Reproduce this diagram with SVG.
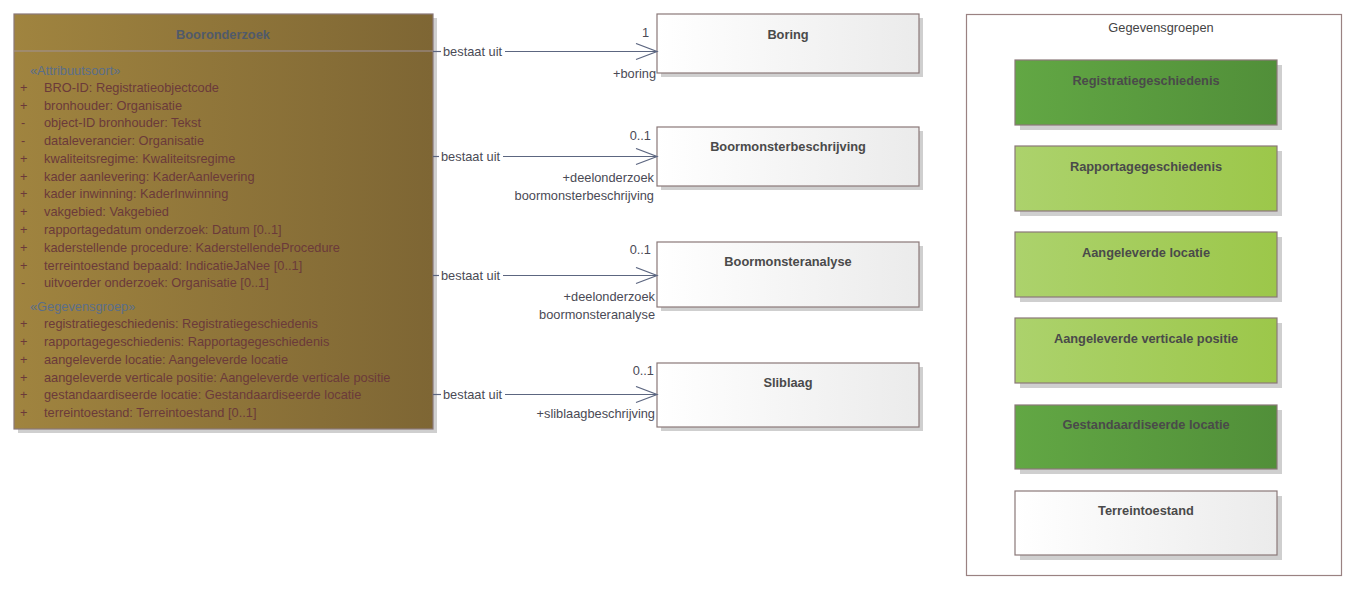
<svg xmlns="http://www.w3.org/2000/svg" width="1360" height="591" viewBox="0 0 1360 591">
<defs>
<linearGradient id="gold" x1="0" y1="0" x2="1" y2="0"><stop offset="0" stop-color="#a0843f"/><stop offset="1" stop-color="#7e6634"/></linearGradient>
<linearGradient id="white" x1="0" y1="0" x2="1" y2="0"><stop offset="0" stop-color="#ffffff"/><stop offset="1" stop-color="#ebebeb"/></linearGradient>
<linearGradient id="dgreen" x1="0" y1="0" x2="1" y2="0"><stop offset="0" stop-color="#62a744"/><stop offset="1" stop-color="#518f39"/></linearGradient>
<linearGradient id="lgreen" x1="0" y1="0" x2="1" y2="0"><stop offset="0" stop-color="#acd26c"/><stop offset="1" stop-color="#9cc74a"/></linearGradient>
<marker id="open" markerWidth="24" markerHeight="20" refX="22" refY="9" orient="auto" markerUnits="userSpaceOnUse"><path d="M1,1 L22,9 L1,17" fill="none" stroke="#5c6680" stroke-width="1.2"/></marker>
</defs>
<style>
text{font-family:"Liberation Sans",Arial,sans-serif;font-size:12.8px}
.shadow{fill:#cfcfcf}
.box{stroke:#8a7878;stroke-width:1.2}
.title{font-weight:bold;fill:#505a6a;text-anchor:middle}
.gtitle{font-weight:bold;fill:#4a4a4a;text-anchor:middle}
.attr{fill:#6b3a3a}
.ster{fill:#5a6e8a}
.conn{stroke:#5c6680;stroke-width:1.2;fill:none}
.lbl{fill:#4a4a55}
.end{fill:#4a4a55;text-anchor:end}
</style>
<rect x="0" y="0" width="1360" height="591" fill="#ffffff"/>

<g id="booronderzoek">
<rect class="shadow" x="18" y="18" width="419" height="415"/>
<rect class="box" x="14" y="14" width="419" height="415" fill="url(#gold)" stroke="#a8969c"/>
<line x1="14" y1="51" x2="433" y2="51" stroke="#a0929a" stroke-width="1"/>
<text class="title" x="223" y="39">Booronderzoek</text>
<text class="ster" x="30" y="75">«Attribuutsoort»</text>
<g class="attr">
<text x="20" y="92">+</text><text x="44" y="92">BRO-ID: Registratieobjectcode</text>
<text x="20" y="110">+</text><text x="44" y="110">bronhouder: Organisatie</text>
<text x="21" y="127">-</text><text x="44" y="127">object-ID bronhouder: Tekst</text>
<text x="21" y="145">-</text><text x="44" y="145">dataleverancier: Organisatie</text>
<text x="20" y="163">+</text><text x="44" y="163">kwaliteitsregime: Kwaliteitsregime</text>
<text x="20" y="181">+</text><text x="44" y="181">kader aanlevering: KaderAanlevering</text>
<text x="20" y="198">+</text><text x="44" y="198">kader inwinning: KaderInwinning</text>
<text x="20" y="216">+</text><text x="44" y="216">vakgebied: Vakgebied</text>
<text x="20" y="234">+</text><text x="44" y="234">rapportagedatum onderzoek: Datum [0..1]</text>
<text x="20" y="252">+</text><text x="44" y="252">kaderstellende procedure: KaderstellendeProcedure</text>
<text x="20" y="270">+</text><text x="44" y="270">terreintoestand bepaald: IndicatieJaNee [0..1]</text>
<text x="21" y="287">-</text><text x="44" y="287">uitvoerder onderzoek: Organisatie [0..1]</text>
</g>
<text class="ster" x="30" y="311">«Gegevensgroep»</text>
<g class="attr">
<text x="20" y="328">+</text><text x="44" y="328">registratiegeschiedenis: Registratiegeschiedenis</text>
<text x="20" y="346">+</text><text x="44" y="346">rapportagegeschiedenis: Rapportagegeschiedenis</text>
<text x="20" y="364">+</text><text x="44" y="364">aangeleverde locatie: Aangeleverde locatie</text>
<text x="20" y="382">+</text><text x="44" y="382">aangeleverde verticale positie: Aangeleverde verticale positie</text>
<text x="20" y="399">+</text><text x="44" y="399">gestandaardiseerde locatie: Gestandaardiseerde locatie</text>
<text x="20" y="417">+</text><text x="44" y="417">terreintoestand: Terreintoestand [0..1]</text>
</g>
</g>

<g id="boring">
<rect class="shadow" x="661" y="18" width="262" height="59"/>
<rect class="box" x="657" y="14" width="262" height="59" fill="url(#white)"/>
<text class="gtitle" x="788" y="39">Boring</text>
</g>
<g id="boormonsterbeschrijving">
<rect class="shadow" x="661" y="131" width="262" height="59"/>
<rect class="box" x="657" y="127" width="262" height="59" fill="url(#white)"/>
<text class="gtitle" x="788" y="151">Boormonsterbeschrijving</text>
</g>
<g id="boormonsteranalyse">
<rect class="shadow" x="661" y="246" width="262" height="65"/>
<rect class="box" x="657" y="242" width="262" height="65" fill="url(#white)"/>
<text class="gtitle" x="788" y="266">Boormonsteranalyse</text>
</g>
<g id="sliblaag">
<rect class="shadow" x="661" y="367" width="262" height="64"/>
<rect class="box" x="657" y="363" width="262" height="64" fill="url(#white)"/>
<text class="gtitle" x="788" y="387">Sliblaag</text>
</g>

<g id="connectors">
<line class="conn" x1="433" y1="51.5" x2="441" y2="51.5"/>
<line class="conn" x1="505" y1="51.5" x2="657" y2="51.5" marker-end="url(#open)"/>
<text class="lbl" x="443" y="56">bestaat uit</text>
<text class="lbl" x="642" y="37" fill="#4c5a80">1</text>
<text class="end" x="656" y="78">+boring</text>

<line class="conn" x1="433" y1="156.5" x2="439" y2="156.5"/>
<line class="conn" x1="503" y1="156.5" x2="657" y2="156.5" marker-end="url(#open)"/>
<text class="lbl" x="441" y="161">bestaat uit</text>
<text class="end" x="651" y="140">0..1</text>
<text class="end" x="654" y="182">+deelonderzoek</text>
<text class="end" x="654" y="200">boormonsterbeschrijving</text>

<line class="conn" x1="433" y1="275.5" x2="439" y2="275.5"/>
<line class="conn" x1="503" y1="275.5" x2="657" y2="275.5" marker-end="url(#open)"/>
<text class="lbl" x="441" y="280">bestaat uit</text>
<text class="end" x="651" y="254">0..1</text>
<text class="end" x="655" y="301">+deelonderzoek</text>
<text class="end" x="655" y="319">boormonsteranalyse</text>

<line class="conn" x1="433" y1="394.5" x2="441" y2="394.5"/>
<line class="conn" x1="505" y1="394.5" x2="657" y2="394.5" marker-end="url(#open)"/>
<text class="lbl" x="443" y="399">bestaat uit</text>
<text class="end" x="654" y="375">0..1</text>
<text class="end" x="655" y="418">+sliblaagbeschrijving</text>
</g>

<g id="gegevensgroepen">
<rect x="966.5" y="14.5" width="375" height="561" fill="#ffffff" stroke="#9a8282" stroke-width="1.2"/>
<text x="1161" y="32" text-anchor="middle" fill="#444">Gegevensgroepen</text>
</g>
<g id="registratiegeschiedenis">
<rect class="shadow" x="1020" y="65" width="262" height="65"/>
<rect class="box" x="1015" y="60" width="262" height="65" fill="url(#dgreen)"/>
<text class="gtitle" x="1146" y="85">Registratiegeschiedenis</text>
</g>
<g id="rapportagegeschiedenis">
<rect class="shadow" x="1020" y="151" width="262" height="65"/>
<rect class="box" x="1015" y="146" width="262" height="65" fill="url(#lgreen)"/>
<text class="gtitle" x="1146" y="171">Rapportagegeschiedenis</text>
</g>
<g id="aangeleverde-locatie">
<rect class="shadow" x="1020" y="237" width="262" height="65"/>
<rect class="box" x="1015" y="232" width="262" height="65" fill="url(#lgreen)"/>
<text class="gtitle" x="1146" y="257">Aangeleverde locatie</text>
</g>
<g id="aangeleverde-verticale-positie">
<rect class="shadow" x="1020" y="323" width="262" height="65"/>
<rect class="box" x="1015" y="318" width="262" height="65" fill="url(#lgreen)"/>
<text class="gtitle" x="1146" y="343">Aangeleverde verticale positie</text>
</g>
<g id="gestandaardiseerde-locatie">
<rect class="shadow" x="1020" y="410" width="262" height="64"/>
<rect class="box" x="1015" y="405" width="262" height="64" fill="url(#dgreen)"/>
<text class="gtitle" x="1146" y="429">Gestandaardiseerde locatie</text>
</g>
<g id="terreintoestand">
<rect class="shadow" x="1020" y="496" width="262" height="64"/>
<rect class="box" x="1015" y="491" width="262" height="64" fill="url(#white)"/>
<text class="gtitle" x="1146" y="515">Terreintoestand</text>
</g>
</svg>
